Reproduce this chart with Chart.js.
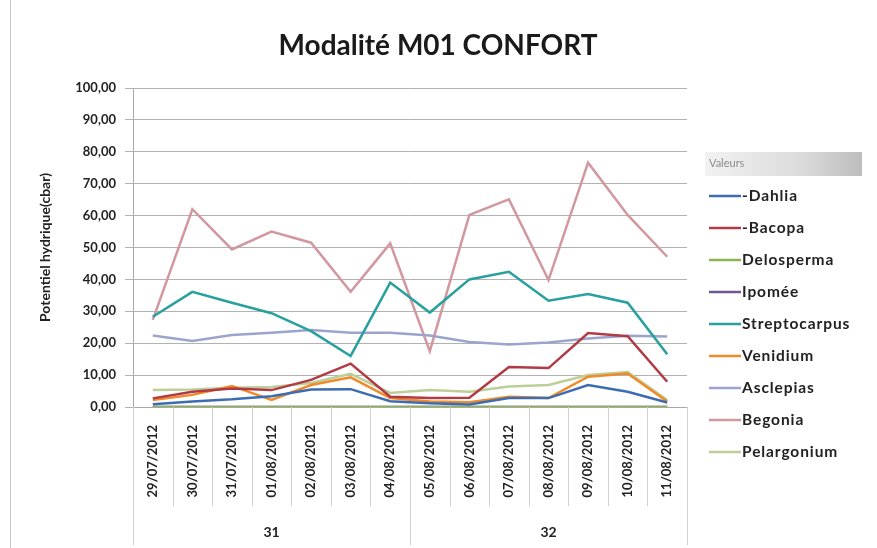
<!DOCTYPE html>
<html>
<head>
<meta charset="utf-8">
<script src="https://cdn.jsdelivr.net/npm/chart.js@4.4.1/dist/chart.umd.min.js"></script>
<style>
    html, body { margin: 0; padding: 0; background: #ffffff; }
    #wrap { width: 877px; height: 548px; position: relative; }
</style>
</head>
<body>
<div id="wrap"><canvas id="confortChart"></canvas></div>
<script>
const dates = ['29/07/2012', '30/07/2012', '31/07/2012', '01/08/2012', '02/08/2012', '03/08/2012', '04/08/2012',
    '05/08/2012', '06/08/2012', '07/08/2012', '08/08/2012', '09/08/2012', '10/08/2012', '11/08/2012'];
const weeks = ['31', '32'];
const weekLengths = [7, 7];

const dahliaData = [0.9, 1.7, 2.4, 3.4, 5.5, 5.6, 1.8, 1.2, 0.8, 2.8, 2.8, 6.9, 4.8, 1.4];
const bacopaData = [2.7, 4.8, 5.8, 5.3, 8.5, 13.6, 3.2, 2.8, 2.9, 12.5, 12.2, 23.2, 22.2, 7.9];
const delospermaData = [0, 0, 0, 0, 0, 0, 0, 0, 0, 0, 0, 0, 0, 0];
const ipomeeData = [0, 0, 0, 0, 0, 0, 0, 0, 0, 0, 0, 0, 0, 0];
const streptocarpusData = [28.3, 36.1, 32.7, 29.4, 23.8, 16.0, 39.0, 29.6, 40.0, 42.4, 33.3, 35.4, 32.7, 16.5];
const venidiumData = [2.2, 3.8, 6.6, 2.2, 6.9, 9.3, 2.8, 1.7, 1.5, 3.2, 2.8, 9.5, 10.5, 1.7];
const asclepiasData = [22.4, 20.7, 22.6, 23.3, 24.1, 23.3, 23.3, 22.4, 20.4, 19.6, 20.2, 21.5, 22.3, 22.1];
const begoniaData = [27.3, 62.0, 49.4, 55.0, 51.5, 36.1, 51.3, 17.5, 60.2, 65.1, 39.8, 76.6, 60.2, 47.1];
const pelargoniumData = [5.3, 5.5, 6.0, 6.3, 7.5, 10.4, 4.4, 5.3, 4.8, 6.4, 6.9, 10.0, 11.0, 2.2];

const seriesNames = ['-Dahlia', '-Bacopa', 'Delosperma', 'Ipomée', 'Streptocarpus', 'Venidium', 'Asclepias', 'Begonia', 'Pelargonium'];
const seriesValues = [dahliaData, bacopaData, delospermaData, ipomeeData, streptocarpusData, venidiumData, asclepiasData, begoniaData, pelargoniumData];
const seriesColors = ['#3c6db0', '#b23a44', '#8db452', '#6e5699', '#27a09f', '#f08a2a', '#9ba4cc', '#d2979f', '#bccf98'];

const chartTitle = 'Modalité M01 CONFORT';
const fontFamily = 'Lato, "Open Sans", sans-serif';

// title, week groups, separators under the date labels and the legend box
const excelExtras = {
    id: 'excelExtras',
    afterDraw(chart) {
        const ctx = chart.ctx;
        const area = chart.chartArea;
        const xScale = chart.scales.x;
        const step = (area.right - area.left) / dates.length;
        ctx.save();

        // frame
        ctx.strokeStyle = '#c4c4c4';
        ctx.lineWidth = 1;
        ctx.beginPath();
        ctx.moveTo(10.5, 0);
        ctx.lineTo(10.5, 548);
        ctx.stroke();

        // title
        ctx.fillStyle = '#1a1a1a';
        ctx.font = 'bold 28px ' + fontFamily;
        ctx.textAlign = 'center';
        ctx.textBaseline = 'middle';
        ctx.fillText(chartTitle, 438, 46);

        // separators
        const groupEnds = [0];
        weekLengths.forEach(function (n) { groupEnds.push(groupEnds[groupEnds.length - 1] + n); });
        for (let k = 0; k <= dates.length; k++) {
            const x = Math.round(xScale.getPixelForValue(k) - step / 2) + 0.5;
            const long = groupEnds.indexOf(k) !== -1;
            ctx.strokeStyle = '#cfcfcf';
            ctx.beginPath();
            ctx.moveTo(x, area.bottom);
            ctx.lineTo(x, long ? 545 : 506);
            ctx.stroke();
        }

        // week labels
        ctx.fillStyle = '#222222';
        ctx.font = 'bold 14px ' + fontFamily;
        weeks.forEach(function (w, i) {
            const first = groupEnds[i];
            const last = groupEnds[i + 1] - 1;
            const cx = (xScale.getPixelForValue(first) + xScale.getPixelForValue(last)) / 2;
            ctx.fillText(w, cx, 532);
        });

        // legend header
        const grad = ctx.createLinearGradient(705, 0, 862, 0);
        grad.addColorStop(0, '#f2f2f2');
        grad.addColorStop(0.6, '#dcdcdc');
        grad.addColorStop(1, '#bdbdbd');
        ctx.fillStyle = grad;
        ctx.fillRect(705, 152, 157, 24);
        ctx.fillStyle = '#8a8a8a';
        ctx.font = '11px ' + fontFamily;
        ctx.textAlign = 'left';
        ctx.fillText('Valeurs', 709, 163);

        // legend items
        ctx.font = 'bold 15.5px ' + fontFamily;
        ctx.letterSpacing = '0.9px';
        chart.data.datasets.forEach(function (ds, i) {
            const y = 196 + i * 32;
            ctx.strokeStyle = ds.borderColor;
            ctx.lineWidth = 2.5;
            ctx.beginPath();
            ctx.moveTo(709, y);
            ctx.lineTo(741, y);
            ctx.stroke();
            ctx.fillStyle = '#222222';
            ctx.fillText(ds.label, 742, y);
        });
        ctx.restore();
    }
};

document.addEventListener('DOMContentLoaded', function () {
    const ctx = document.getElementById('confortChart').getContext('2d');

    const datasets = seriesNames.map(function (name, i) {
        return {
            label: name,
            data: seriesValues[i],
            borderColor: seriesColors[i],
            backgroundColor: seriesColors[i],
            borderWidth: 2.5,
            pointRadius: 0,
            tension: 0,
            fill: false
        };
    });

    new Chart(ctx, {
        type: 'line',
        data: {
            labels: dates,
            datasets: datasets
        },
        options: {
            responsive: true,
            maintainAspectRatio: false,
            animation: false,
            layout: {
                padding: { left: 10, right: 190, top: 88, bottom: 0 }
            },
            plugins: {
                legend: { display: false },
                tooltip: { enabled: false },
                title: { display: false }
            },
            scales: {
                x: {
                    offset: true,
                    afterFit: function (scale) { scale.height = 141; },
                    grid: { display: false },
                    border: { display: true, color: '#a8a8a8', width: 1 },
                    ticks: {
                        autoSkip: false,
                        minRotation: 90,
                        maxRotation: 90,
                        padding: 10,
                        color: '#222222',
                        font: { family: fontFamily, size: 13, weight: 'bold' }
                    }
                },
                y: {
                    min: 0,
                    max: 100,
                    afterFit: function (scale) { scale.width = 123; },
                    grid: {
                        color: '#b2b2b2',
                        lineWidth: 1,
                        tickLength: 8,
                        tickColor: '#b2b2b2'
                    },
                    border: { display: true, color: '#a8a8a8' },
                    ticks: {
                        stepSize: 10,
                        padding: 9,
                        color: '#222222',
                        font: { family: fontFamily, size: 13, weight: 'bold' },
                        callback: function (v) { return v.toFixed(2).replace('.', ','); }
                    },
                    title: {
                        display: true,
                        text: 'Potentiel hydrique(cbar)',
                        color: '#222222',
                        font: { family: fontFamily, size: 14, weight: 'bold' },
                        padding: { top: 27, bottom: 0 }
                    }
                }
            }
        },
        plugins: [excelExtras]
    });
});
</script>
</body>
</html>
